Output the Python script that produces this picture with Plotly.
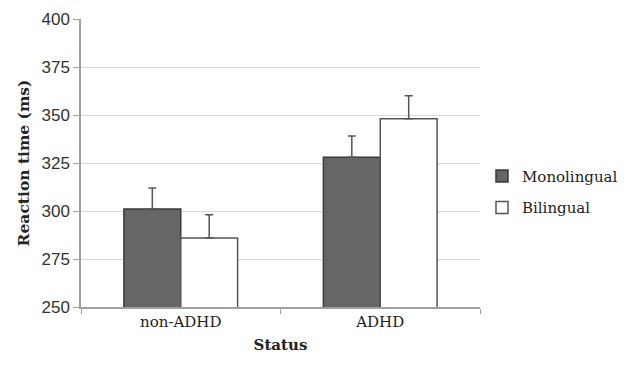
import plotly.graph_objects as go

categories = ["non-ADHD", "ADHD"]
mono_values = [301, 328]
mono_errors = [11, 11]
bi_values = [286, 348]
bi_errors = [12, 12]
y_ticks = [250, 275, 300, 325, 350, 375, 400]

serif = "DejaVu Serif"

fig = go.Figure()
fig.add_trace(go.Bar(
    x=categories, y=mono_values, name="Monolingual", legendgroup="m",
    marker=dict(color="#666666", line=dict(color="#3a3a3a", width=1.5)),
    error_y=dict(type="data", array=mono_errors, arrayminus=[0, 0],
                 color="#555555", thickness=1.5, width=4),
))
fig.add_trace(go.Bar(
    x=categories, y=bi_values, name="Bilingual", legendgroup="b",
    marker=dict(color="#ffffff", line=dict(color="#555555", width=1.5)),
    error_y=dict(type="data", array=bi_errors, arrayminus=[0, 0],
                 color="#555555", thickness=1.5, width=4),
))

fig.update_layout(
    width=620, height=357,
    margin=dict(l=73, r=148, t=11, b=58, autoexpand=False),
    paper_bgcolor="white", plot_bgcolor="white",
    barmode="group", bargap=0.43, bargroupgap=0,
    font=dict(family=serif, size=15, color="#222222"),
    legend=dict(x=1.005, y=0.40, xanchor="left", yanchor="middle",
                font=dict(family=serif, size=15, color="#222222"),
                tracegroupgap=9, itemwidth=30),
    xaxis=dict(
        automargin=False,
        showline=True, linecolor="#a0a0a0", linewidth=1.5,
        ticks="outside", tickson="boundaries", ticklen=5, tickcolor="#a0a0a0",
        tickfont=dict(family=serif, size=15, color="#222222"),
        title=dict(text="<b>Status</b>", font=dict(family=serif, size=15, color="#222222"), standoff=10),
    ),
    yaxis=dict(
        automargin=False,
        range=[250, 400], tickvals=y_ticks,
        showgrid=True, gridcolor="#d9d9d9", gridwidth=1,
        showline=True, linecolor="#a0a0a0", linewidth=1.5,
        ticks="outside", ticklen=6, tickcolor="#a0a0a0",
        tickfont=dict(family="Liberation Sans", size=17, color="#333333"),
        title=dict(text="<b>Reaction time (ms)</b>", font=dict(family=serif, size=15.5, color="#222222"), standoff=8),
        zeroline=False,
    ),
)

fig.write_html("out.html")
